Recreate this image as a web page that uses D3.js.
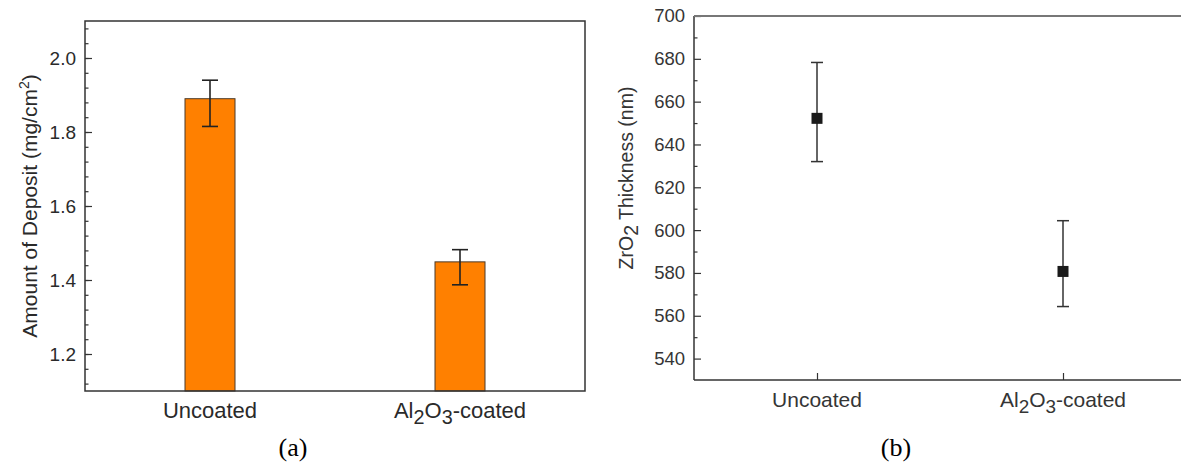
<!DOCTYPE html>
<html lang="en">
<head>
    <meta charset="UTF-8">
    <title>Deposit and ZrO2 thickness</title>
    <script src="https://d3js.org/d3.v7.min.js"></script>
    <style>
        body { margin: 0; background: #fff; }
        text { font-family: "Liberation Sans", Arial, sans-serif; fill: #2a2a2a; }
        .domain { display: none; }
        .tick line { stroke: #333; stroke-width: 1.2; }
        .caption { font-family: "Liberation Serif", "Times New Roman", serif; fill: #000; }
    </style>
</head>
<body>
    <svg id="chart" width="1181" height="463"></svg>

    <script>
        // categories shared by both panels
        const categories = ["Uncoated", "Al2O3-coated"];

        // panel (a): amount of deposit (mg/cm2)
        const depositMean = [1.89, 1.449];
        const depositLow = [1.815, 1.387];
        const depositHigh = [1.94, 1.482];
        const depositTicks = [1.2, 1.4, 1.6, 1.8, 2.0];

        // panel (b): ZrO2 thickness (nm)
        const thickMean = [652.2, 580.7];
        const thickLow = [632, 564.3];
        const thickHigh = [678.3, 604.4];
        const thickTicks = [540, 560, 580, 600, 620, 640, 660, 680, 700];

        const svg = d3.select("#chart");

        // draws "Al2O3-coated" style labels with subscript digits
        function chemLabel(sel, name) {
            if (name === "Al2O3-coated") {
                sel.append("tspan").text("Al");
                sel.append("tspan").attr("dy", 6).style("font-size", "0.9em").text("2");
                sel.append("tspan").attr("dy", -6).text("O");
                sel.append("tspan").attr("dy", 6).style("font-size", "0.9em").text("3");
                sel.append("tspan").attr("dy", -6).text("-coated");
            } else {
                sel.text(name);
            }
        }

        // ---------- Panel (a) ----------
        const a = { left: 85, right: 585, top: 21, bottom: 391 };

        const xA = d3.scaleBand()
            .domain(categories)
            .range([a.left, a.right]);

        const yA = d3.scaleLinear()
            .domain([1.1, 2.1])
            .range([a.bottom, a.top]);

        // minor ticks
        svg.append("g")
            .attr("transform", `translate(${a.left},0)`)
            .call(d3.axisLeft(yA).tickValues(d3.range(1.12, 2.1, 0.04)).tickSize(-3.5).tickFormat(""));

        svg.append("g")
            .attr("transform", `translate(${a.left},0)`)
            .call(d3.axisLeft(yA).tickValues(depositTicks).tickSize(-7).tickPadding(9).tickFormat(d3.format(".1f")))
            .selectAll("text")
            .style("font-size", "19px")
            .style("fill", "#2a2a2a");

        const barW = 50;
        svg.append("g")
            .selectAll("rect")
            .data(categories)
            .join("rect")
            .attr("x", d => xA(d) + xA.bandwidth() / 2 - barW / 2)
            .attr("y", (d, i) => yA(depositMean[i]))
            .attr("width", barW)
            .attr("height", (d, i) => a.bottom - yA(depositMean[i]))
            .attr("fill", "#ff8000")
            .attr("stroke", "#4a3a2a")
            .attr("stroke-width", 1);

        const errA = svg.append("g").attr("stroke", "#222").attr("stroke-width", 1.6);
        categories.forEach((c, i) => {
            const cx = xA(c) + xA.bandwidth() / 2;
            errA.append("line").attr("x1", cx).attr("x2", cx)
                .attr("y1", yA(depositLow[i])).attr("y2", yA(depositHigh[i]));
            [depositLow[i], depositHigh[i]].forEach(v => {
                errA.append("line").attr("x1", cx - 8).attr("x2", cx + 8)
                    .attr("y1", yA(v)).attr("y2", yA(v));
            });
        });

        svg.append("rect")
            .attr("x", a.left).attr("y", a.top)
            .attr("width", a.right - a.left).attr("height", a.bottom - a.top)
            .attr("fill", "none").attr("stroke", "#333").attr("stroke-width", 1.5);

        svg.append("g")
            .selectAll("text")
            .data(categories)
            .join("text")
            .attr("x", d => xA(d) + xA.bandwidth() / 2)
            .attr("y", 418)
            .attr("text-anchor", "middle")
            .style("font-size", "22px")
            .each(function(d) { chemLabel(d3.select(this), d); });

        const titleA = svg.append("text")
            .attr("transform", `translate(37,${(a.top + a.bottom) / 2}) rotate(-90)`)
            .attr("text-anchor", "middle")
            .style("font-size", "21px");
        titleA.append("tspan").text("Amount of Deposit (mg/cm");
        titleA.append("tspan").attr("dy", -8).style("font-size", "14px").text("2");
        titleA.append("tspan").attr("dy", 8).text(")");

        svg.append("text").attr("class", "caption")
            .attr("x", 293).attr("y", 456)
            .attr("text-anchor", "middle")
            .style("font-size", "26px")
            .text("(a)");

        // ---------- Panel (b) ----------
        const b = { left: 694, right: 1186, top: 16, bottom: 380 };

        const xB = d3.scalePoint()
            .domain(categories)
            .range([b.left, b.right])
            .padding(0.5);

        const yB = d3.scaleLinear()
            .domain([530, 700])
            .range([b.bottom, b.top]);

        svg.append("g")
            .attr("transform", `translate(${b.left},0)`)
            .call(d3.axisLeft(yB).tickValues(d3.range(550, 700, 20)).tickSize(-3.5).tickFormat(""));

        svg.append("g")
            .attr("transform", `translate(${b.left},0)`)
            .call(d3.axisLeft(yB).tickValues(thickTicks).tickSize(-7).tickPadding(9))
            .selectAll("text")
            .style("font-size", "18.5px")
            .style("fill", "#353535");

        svg.append("g")
            .attr("transform", `translate(0,${b.bottom})`)
            .call(d3.axisBottom(xB).tickSize(-7).tickFormat(""));

        // axis lines: left + bottom dark, top gray
        svg.append("line").attr("x1", b.left).attr("x2", b.left).attr("y1", b.top).attr("y2", b.bottom)
            .attr("stroke", "#333").attr("stroke-width", 1.5);
        svg.append("line").attr("x1", b.left).attr("x2", 1181).attr("y1", b.bottom).attr("y2", b.bottom)
            .attr("stroke", "#333").attr("stroke-width", 1.5);
        svg.append("line").attr("x1", b.left).attr("x2", 1181).attr("y1", b.top).attr("y2", b.top)
            .attr("stroke", "#777").attr("stroke-width", 2);

        const errB = svg.append("g").attr("stroke", "#333").attr("stroke-width", 1.5);
        categories.forEach((c, i) => {
            const cx = xB(c);
            errB.append("line").attr("x1", cx).attr("x2", cx)
                .attr("y1", yB(thickLow[i])).attr("y2", yB(thickHigh[i]));
            [thickLow[i], thickHigh[i]].forEach(v => {
                errB.append("line").attr("x1", cx - 6).attr("x2", cx + 6)
                    .attr("y1", yB(v)).attr("y2", yB(v));
            });
        });

        svg.append("g")
            .selectAll("rect")
            .data(categories)
            .join("rect")
            .attr("x", d => xB(d) - 5.5)
            .attr("y", (d, i) => yB(thickMean[i]) - 5.5)
            .attr("width", 11)
            .attr("height", 11)
            .attr("fill", "#1a1a1a");

        svg.append("g")
            .selectAll("text")
            .data(categories)
            .join("text")
            .attr("x", d => xB(d))
            .attr("y", 407)
            .attr("text-anchor", "middle")
            .style("font-size", "21px")
            .style("fill", "#353535")
            .each(function(d) { chemLabel(d3.select(this), d); });

        const titleB = svg.append("text")
            .attr("transform", `translate(633,178) rotate(-90)`)
            .attr("text-anchor", "middle")
            .style("font-size", "19.5px")
            .style("fill", "#353535");
        titleB.append("tspan").text("ZrO");
        titleB.append("tspan").attr("dy", 5).text("2");
        titleB.append("tspan").attr("dy", -5).text(" Thickness (nm)");

        svg.append("text").attr("class", "caption")
            .attr("x", 896).attr("y", 456)
            .attr("text-anchor", "middle")
            .style("font-size", "26px")
            .text("(b)");
    </script>
</body>
</html>
